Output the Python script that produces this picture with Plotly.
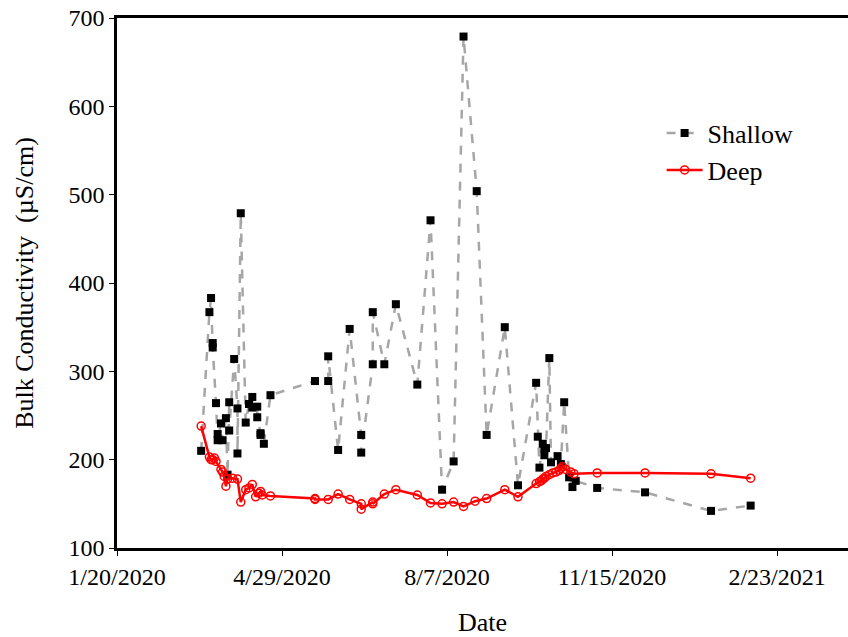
import plotly.graph_objects as go
from datetime import date, timedelta

shallow_dates = [
    "2020-03-11", "2020-03-16", "2020-03-17", "2020-03-18", "2020-03-18", "2020-03-20",
    "2020-03-21", "2020-03-21", "2020-03-23", "2020-03-24", "2020-03-26", "2020-03-27",
    "2020-03-28", "2020-03-28", "2020-03-31", "2020-04-02", "2020-04-02", "2020-04-04",
    "2020-04-07", "2020-04-09", "2020-04-11", "2020-04-11", "2020-04-14", "2020-04-14",
    "2020-04-16", "2020-04-16", "2020-04-18", "2020-04-22", "2020-05-19", "2020-05-27",
    "2020-05-27", "2020-06-02", "2020-06-09", "2020-06-16", "2020-06-16", "2020-06-23",
    "2020-06-23", "2020-06-30", "2020-07-07", "2020-07-20", "2020-07-28", "2020-08-04",
    "2020-08-11", "2020-08-17", "2020-08-25", "2020-08-31", "2020-09-11", "2020-09-19",
    "2020-09-30", "2020-10-01", "2020-10-02", "2020-10-04", "2020-10-05", "2020-10-05",
    "2020-10-06", "2020-10-08", "2020-10-09", "2020-10-13", "2020-10-15", "2020-10-17",
    "2020-10-20", "2020-10-22", "2020-10-24", "2020-11-06", "2020-12-05", "2021-01-14",
    "2021-02-07",
]
shallow_vals = [
    210, 367, 383, 332, 327, 264,
    229, 222, 241, 222, 247, 183,
    265, 233, 314, 258, 207, 479,
    242, 263, 271, 259, 260, 248,
    230, 228, 218, 273, 289, 289,
    317, 211, 348, 228, 208, 308,
    367, 308, 376, 285, 471, 166,
    198, 679, 504, 228, 350, 171,
    287, 226, 191, 218, 213, 205,
    213, 315, 197, 204, 195, 265,
    180, 169, 176, 168, 163, 142,
    148,
]

deep_dates = [
    "2020-03-11", "2020-03-16", "2020-03-17", "2020-03-18", "2020-03-19", "2020-03-20",
    "2020-03-23", "2020-03-24", "2020-03-25", "2020-03-26", "2020-03-27", "2020-03-30",
    "2020-04-02", "2020-04-04", "2020-04-07", "2020-04-09", "2020-04-11", "2020-04-13",
    "2020-04-15", "2020-04-16", "2020-04-17", "2020-04-22", "2020-05-19", "2020-05-19",
    "2020-05-27", "2020-06-02", "2020-06-09", "2020-06-16", "2020-06-16", "2020-06-23",
    "2020-06-23", "2020-06-30", "2020-07-07", "2020-07-20", "2020-07-28", "2020-08-04",
    "2020-08-11", "2020-08-17", "2020-08-24", "2020-08-31", "2020-09-11", "2020-09-19",
    "2020-09-30", "2020-10-02", "2020-10-03", "2020-10-04", "2020-10-05", "2020-10-06",
    "2020-10-08", "2020-10-10", "2020-10-12", "2020-10-14", "2020-10-15", "2020-10-16",
    "2020-10-18", "2020-10-21", "2020-10-23", "2020-11-06", "2020-12-05", "2021-01-14",
    "2021-02-07",
]
deep_vals = [
    238, 203, 200, 200, 202, 198,
    189, 186, 181, 170, 178, 179,
    178, 152, 166, 168, 172, 158,
    162, 164, 160, 159, 156, 155,
    155, 161, 155, 150, 144, 152,
    150, 161, 166, 160, 151, 150,
    152, 147, 153, 156, 166, 158,
    173, 175, 176, 178, 179, 181,
    183, 185, 186, 188, 190, 192,
    189, 186, 184, 185, 185, 184,
    179,
]

tick_dates = ["2020-01-20", "2020-04-29", "2020-08-07", "2020-11-15", "2021-02-23"]
tick_text = ["1/20/2020", "4/29/2020", "8/7/2020", "11/15/2020", "2/23/2021"]
y_ticks = [100, 200, 300, 400, 500, 600, 700]

FONT = "Liberation Serif, Times New Roman, serif"

fig = go.Figure()
fig.add_trace(go.Scatter(
    x=shallow_dates, y=shallow_vals, name="Shallow", mode="lines+markers",
    line=dict(color="rgb(166,166,166)", width=2.5, dash="dash"),
    marker=dict(symbol="square", size=8, color="black"),
))
fig.add_trace(go.Scatter(
    x=deep_dates, y=deep_vals, name="Deep", mode="lines+markers",
    line=dict(color="#FF0000", width=2.5),
    marker=dict(symbol="circle-open", size=8, color="#FF0000", line=dict(width=1.5)),
))

x_end = (date(2020, 1, 20) + timedelta(days=443)).isoformat()

fig.update_layout(
    width=848, height=637,
    margin=dict(l=117, r=0, t=18, b=89),
    paper_bgcolor="white", plot_bgcolor="white",
    font=dict(family=FONT, size=24, color="black"),
    showlegend=True,
    legend=dict(x=0.745, y=0.827, xanchor="left", yanchor="top",
                bgcolor="rgba(0,0,0,0)", font=dict(size=26, family=FONT),
                tracegroupgap=0, itemwidth=36),
    xaxis=dict(
        range=["2020-01-20", x_end], tickvals=tick_dates, ticktext=tick_text,
        showgrid=False, zeroline=False, showline=True, linecolor="black", linewidth=2.5,
        mirror=True, ticks="outside", ticklen=5, tickcolor="black", tickwidth=1,
        title=dict(text="Date", font=dict(size=26, family=FONT), standoff=30),
        tickfont=dict(size=24, family=FONT),
    ),
    yaxis=dict(
        range=[100, 700], tickvals=y_ticks,
        showgrid=False, zeroline=False, showline=True, linecolor="black", linewidth=2.5,
        ticks="outside", ticklen=5, tickcolor="black", tickwidth=1,
        title=dict(text="Bulk Conductivity  (µS/cm)", font=dict(size=26, family=FONT), standoff=28),
        tickfont=dict(size=24, family=FONT),
    ),
    xaxis2=dict(
        overlaying="x", matches="x", tickvals=tick_dates, showticklabels=False,
        showgrid=False, zeroline=False, showline=False,
        ticks="inside", ticklen=5, tickcolor="black", tickwidth=1,
    ),
    yaxis2=dict(
        overlaying="y", matches="y", tickvals=y_ticks, showticklabels=False,
        showgrid=False, zeroline=False, showline=False,
        ticks="inside", ticklen=5, tickcolor="black", tickwidth=1,
    ),
)

fig.write_html("out.html")
